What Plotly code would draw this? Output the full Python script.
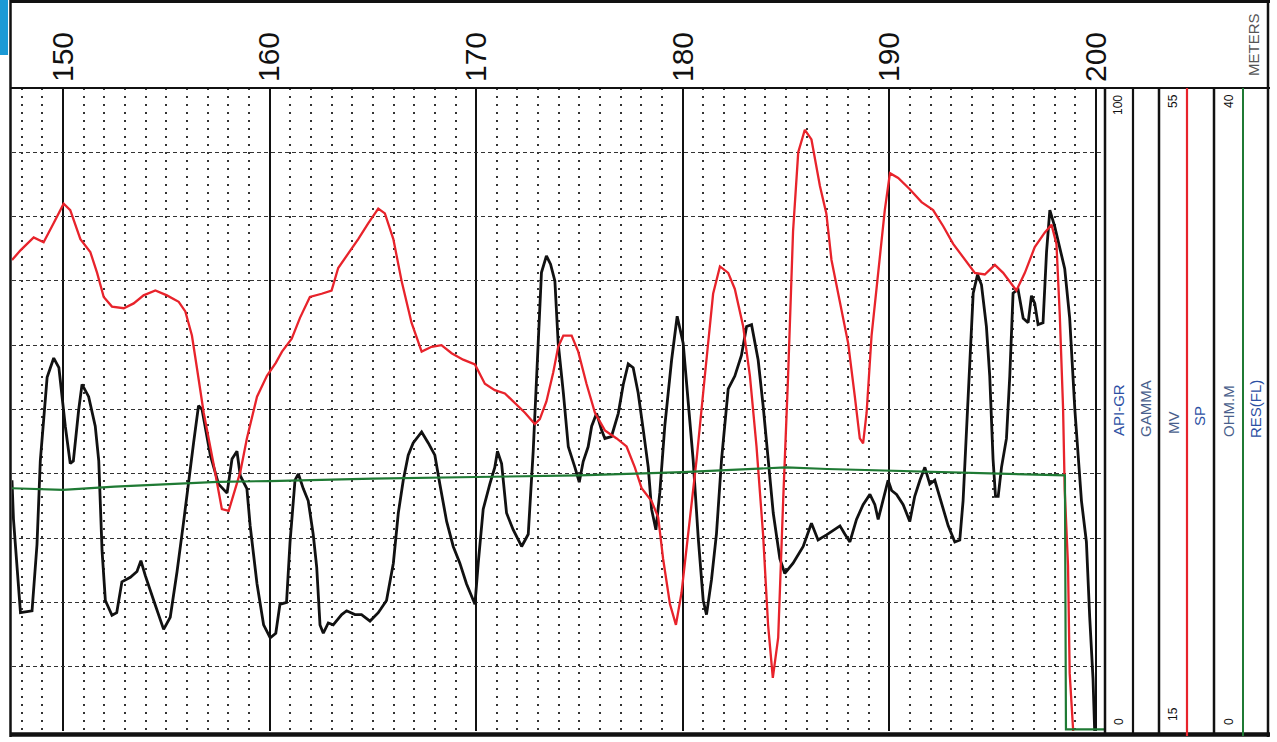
import plotly.graph_objects as go

depth_ticks = [150, 160, 170, 180, 190, 200]
depth_labels = ["150", "160", "170", "180", "190", "200"]

gr_depth = [147.53, 147.6, 147.94, 148.5, 148.74, 148.9, 149.23, 149.55, 149.8, 150.11, 150.35, 150.5,
            150.76, 150.92, 151.24, 151.56, 151.73, 151.89, 152.05, 152.37, 152.6, 152.85, 153.26, 153.58,
            153.77, 153.98, 154.39, 154.87, 155.19, 155.52, 155.84, 156.08, 156.32, 156.56, 156.73, 157.13,
            157.53, 157.94, 158.18, 158.42, 158.58, 158.9, 159.06, 159.39, 159.71, 160.03, 160.3, 160.5,
            160.82, 160.99, 161.23, 161.39, 161.63, 161.87, 162.11, 162.28, 162.44, 162.6, 162.84, 163.08,
            163.49, 163.73, 164.13, 164.45, 164.86, 165.26, 165.66, 165.99, 166.23, 166.47, 166.71, 166.95,
            167.36, 167.68, 168.0, 168.24, 168.57, 168.89, 169.21, 169.53, 169.94, 170.1, 170.34, 170.66,
            170.9, 171.03, 171.23, 171.47, 171.79, 172.2, 172.52, 172.76, 173.0, 173.16, 173.4, 173.6,
            173.81, 173.97, 174.22, 174.46, 174.78, 174.99, 175.18, 175.42, 175.59, 175.83, 176.07, 176.23,
            176.55, 176.88, 177.12, 177.36, 177.6, 177.84, 178.09, 178.33, 178.49, 178.7, 178.89, 179.13,
            179.46, 179.73, 180.02, 180.26, 180.5, 180.75, 180.99, 181.15, 181.39, 181.63, 181.88, 182.2,
            182.52, 182.84, 183.09, 183.33, 183.65, 183.89, 184.13, 184.38, 184.7, 184.94, 185.34, 185.83,
            186.23, 186.55, 186.96, 187.2, 187.61, 187.85, 188.09, 188.41, 188.73, 189.06, 189.3, 189.46,
            189.7, 189.94, 190.11, 190.35, 190.67, 190.99, 191.23, 191.48, 191.72, 191.96, 192.2, 192.53,
            192.85, 193.17, 193.41, 193.57, 193.73, 193.9, 194.06, 194.27, 194.46, 194.7, 194.86, 195.02,
            195.14, 195.27, 195.43, 195.67, 195.83, 195.99, 196.23, 196.48, 196.72, 196.88, 197.04, 197.2,
            197.44, 197.61, 197.77, 198.01, 198.25, 198.49, 198.73, 198.98, 199.3, 199.54, 199.7, 199.86,
            199.94, 200.0]
gr_api = [39, 33, 18.4, 18.7, 29, 42, 55, 58, 56.5, 47.4, 41.6, 42,
          50, 53.9, 52, 47.4, 42, 28, 20.3, 18, 18.4, 23.2, 23.9, 24.8,
          26.5, 24.2, 20.3, 15.8, 17.7, 24.8, 32.6, 39, 44.8, 50.6, 50, 42.9,
          38.4, 37, 42.3, 43.5, 39.7, 37.7, 31.9, 22.9, 16.5, 14.5, 15.2, 19.7,
          20, 29.4, 39, 40, 37.7, 35.8, 30.6, 25.5, 16.5, 15.2, 16.8, 16.5,
          18.1, 18.7, 18.1, 18.1, 17.1, 18.4, 20.3, 26.1, 33.9, 39, 42.9, 44.8,
          46.5, 44.8, 42.9, 38.4, 32.6, 28.7, 26.1, 22.9, 19.7, 26.1, 34.5, 38.4,
          41, 43.5, 41.6, 33.9, 31.3, 28.7, 30.6, 43.5, 59, 71.3, 73.9, 72.6,
          70, 60.3, 52.6, 44.2, 41, 38.7, 41.9, 44.2, 47.4, 49.4, 46.8, 45.5,
          45.8, 49.4, 53.9, 57.1, 56.5, 52.6, 46.8, 41, 34.5, 31.3, 37.1, 47.4,
          57.7, 64.5, 60.3, 50.6, 42.3, 30, 20.3, 18.1, 23.5, 30.6, 42.3, 53.2,
          55.2, 58.4, 62.9, 63.2, 57.7, 50.6, 42.3, 33.9, 26.8, 24.5, 26.1, 28.7,
          32.3, 29.7, 30.5, 31, 31.9, 30.6, 29.4, 32.9, 35.2, 36.8, 35.2, 32.9,
          35.8, 39, 37.4, 36.8, 35.2, 32.6, 36.5, 39, 41, 38.4, 39, 35.2,
          31.9, 29.4, 29.7, 35.8, 46.8, 58.4, 68.1, 71, 69.4, 62.9, 55.2, 42.3,
          36.5, 36.5, 41, 45.5, 55.2, 68.1, 68.7, 64.2, 63.5, 67.7, 66.5, 63.2,
          63.5, 74.5, 81, 78.4, 75.2, 71.9, 64.2, 50, 35.8, 29.4, 17.7, 8.1,
          0, 0]

sp_depth = [147.53, 147.94, 148.58, 149.06, 149.55, 150.03, 150.35, 150.84, 151.32, 151.65, 151.97, 152.37,
            152.94, 153.42, 153.9, 154.47, 155.03, 155.6, 155.92, 156.24, 156.48, 156.81, 157.29, 157.69,
            158.02, 158.26, 158.58, 158.9, 159.39, 159.87, 160.3, 160.6, 161.07, 161.47, 161.95, 162.52,
            163.0, 163.32, 163.81, 164.29, 164.78, 165.26, 165.58, 165.99, 166.39, 166.87, 167.36, 167.84,
            168.32, 168.81, 169.37, 169.94, 170.42, 170.9, 171.39, 171.87, 172.36, 172.84, 173.08, 173.4,
            173.73, 173.97, 174.22, 174.62, 174.94, 175.34, 175.75, 176.23, 176.8, 177.28, 177.68, 178.01,
            178.49, 178.81, 179.05, 179.38, 179.67, 179.94, 180.26, 180.67, 181.07, 181.47, 181.8, 182.2,
            182.52, 182.92, 183.25, 183.57, 183.89, 184.13, 184.36, 184.62, 184.86, 185.1, 185.34, 185.59,
            185.91, 186.23, 186.64, 186.95, 187.2, 187.61, 188.01, 188.33, 188.57, 188.73, 188.9, 189.14,
            189.46, 189.78, 190.03, 190.43, 190.99, 191.56, 192.12, 192.61, 193.09, 193.65, 194.14, 194.62,
            195.11, 195.51, 196.15, 196.56, 197.04, 197.52, 197.85, 198.09, 198.25, 198.41, 198.49, 198.65,
            198.73, 198.9]
sp_mv = [44.3, 44.9, 45.7, 45.4, 46.6, 47.8, 47.4, 45.6, 44.8, 43.5, 42.0, 41.4,
         41.3, 41.6, 42.1, 42.4, 42.1, 41.7, 41.1, 39.6, 37.6, 34.8, 31.6, 28.8,
         28.7, 29.8, 31.1, 33.2, 35.8, 37.1, 37.9, 38.6, 39.4, 40.7, 42.0, 42.2,
         42.4, 43.8, 44.7, 45.6, 46.6, 47.5, 47.2, 45.6, 43.0, 40.4, 38.6, 38.9,
         39.0, 38.5, 38.1, 37.8, 36.6, 36.2, 36.0, 35.4, 34.8, 34.1, 34.4, 35.5,
         37.3, 38.9, 39.6, 39.6, 38.6, 36.6, 34.8, 33.7, 33.2, 32.7, 31.4, 30.1,
         29.3, 28.3, 25.7, 22.9, 21.6, 23.6, 27.2, 31.9, 37.1, 42.2, 43.9, 43.5,
         42.5, 40.2, 37.1, 32.7, 27.2, 21.6, 18.3, 20.8, 29.3, 37.1, 46.1, 51.0,
         52.4, 51.8, 48.9, 47.2, 44.3, 41.7, 39.1, 35.8, 33.2, 32.9, 34.8, 39.6,
         43.5, 47.4, 49.7, 49.4, 48.7, 47.9, 47.4, 46.4, 45.3, 44.3, 43.5, 43.4,
         44.0, 43.5, 42.4, 43.5, 45.1, 46.0, 46.5, 45.3, 40.9, 35.1, 30.0, 25.3,
         18.6, 15.0]

res_depth = [147.53, 150, 152.5, 155, 157.5, 160, 165, 170, 175, 180, 183, 185, 187, 190, 193, 196,
             198.5, 198.55, 200.44]
res_ohmm = [15.1, 15.0, 15.2, 15.35, 15.5, 15.55, 15.7, 15.8, 15.9, 16.1, 16.3, 16.4, 16.3, 16.2, 16.1,
            16.0, 15.9, 0.1, 0.1]

# ---------------- figure ----------------
W, H = 1277, 742
ML, MR, MT, MB = 10, 7, 1, 5
PW, PH = W - ML - MR, H - MT - MB


def px(x):
    return (x - ML) / PW


def py(y):
    return (H - MB - y) / PH


fig = go.Figure()
fig.add_trace(go.Scatter(x=res_depth, y=res_ohmm, yaxis="y3", mode="lines",
                         line=dict(color="#1f7a34", width=2.2), hoverinfo="skip"))
fig.add_trace(go.Scatter(x=gr_depth, y=gr_api, yaxis="y", mode="lines",
                         line=dict(color="#111111", width=2.8), hoverinfo="skip"))
fig.add_trace(go.Scatter(x=sp_depth, y=sp_mv, yaxis="y2", mode="lines",
                         line=dict(color="#e8232b", width=2.3), hoverinfo="skip"))

shapes = []


def seg(x0, y0, x1, y1, color="#111111", width=2):
    shapes.append(dict(type="line", xref="paper", yref="paper",
                       x0=px(x0), y0=py(y0), x1=px(x1), y1=py(y1),
                       line=dict(color=color, width=width), layer="above"))


# outer frame and header separator
seg(10.5, 0, 10.5, 737, width=2.5)
seg(10, 1.5, 1270, 1.5, width=3)
seg(10, 88, 1270, 88, width=2)
seg(10, 734.5, 1270, 734.5, width=4.5)
seg(1268, 0, 1268, 737, width=2.5)
# track headers
seg(1105, 88, 1105, 736, width=2.5)
seg(1133, 88, 1133, 736, width=2.2)
seg(1159, 88, 1159, 736, width=2.5)
seg(1187, 88, 1187, 736, color="#e8232b", width=2.2)
seg(1214, 88, 1214, 736, width=2.5)
seg(1243, 88, 1243, 736, color="#1f7a34", width=2)
# scan tab at left
shapes.append(dict(type="rect", xref="paper", yref="paper", x0=px(0), x1=px(8), y0=py(0), y1=py(55),
                   fillcolor="#1b9ad6", line=dict(width=0), layer="above"))

annotations = []


def txt(s, x, y, size=12, color="#111111"):
    annotations.append(dict(text=s, x=px(x), y=py(y), xref="paper", yref="paper",
                            showarrow=False, textangle=-90, xanchor="center", yanchor="middle",
                            font=dict(size=size, color=color, family="Liberation Sans, Arial")))


blue = "#2c4fa3"
grey_blue = "#4a5f8c"
txt("100", 1118, 105)
txt("0", 1119, 722)
txt("API-GR", 1119, 410, size=15, color=blue)
txt("GAMMA", 1145, 409, size=15, color=grey_blue)
txt("55", 1173, 101)
txt("15", 1173, 714)
txt("MV", 1173, 423, size=15, color=grey_blue)
txt("SP", 1200, 416, size=15, color=blue)
txt("40", 1229, 101)
txt("0", 1229, 722)
txt("OHM.M", 1228, 411, size=15, color=grey_blue)
txt("RES(FL)", 1255, 409, size=15, color=blue)
txt("METERS", 1253, 45, size=15, color="#555555")

fig.update_layout(
    width=W, height=H,
    margin=dict(l=ML, r=MR, t=MT, b=MB),
    paper_bgcolor="white", plot_bgcolor="white",
    showlegend=False,
    shapes=shapes, annotations=annotations,
    xaxis=dict(domain=[px(12), px(1105)], range=[147.53, 200.44], side="top",
               tickmode="array", tickvals=depth_ticks, ticktext=depth_labels, tickangle=-90,
               tickfont=dict(size=30, color="#111111", family="Liberation Sans, Arial"),
               ticks="", ticklabelstandoff=5,
               showgrid=True, gridcolor="#111111", gridwidth=1.5, zeroline=False,
               showline=False,
               minor=dict(dtick=1, tick0=150, showgrid=True, gridcolor="#333333",
                          gridwidth=1.5, griddash="2px,6px")),
    yaxis=dict(domain=[py(731), py(88)], range=[0, 100], dtick=10, tick0=0,
               showgrid=True, gridcolor="#333333", gridwidth=1, griddash="4px,3px",
               showticklabels=False, ticks="", zeroline=False, showline=False),
    yaxis2=dict(overlaying="y", range=[15, 55], visible=False, showgrid=False),
    yaxis3=dict(overlaying="y", range=[0, 40], visible=False, showgrid=False),
)

fig.write_html("out.html",
               config={"displayModeBar": False},
               post_script="document.body.style.margin='0';document.body.style.overflow='hidden';")
